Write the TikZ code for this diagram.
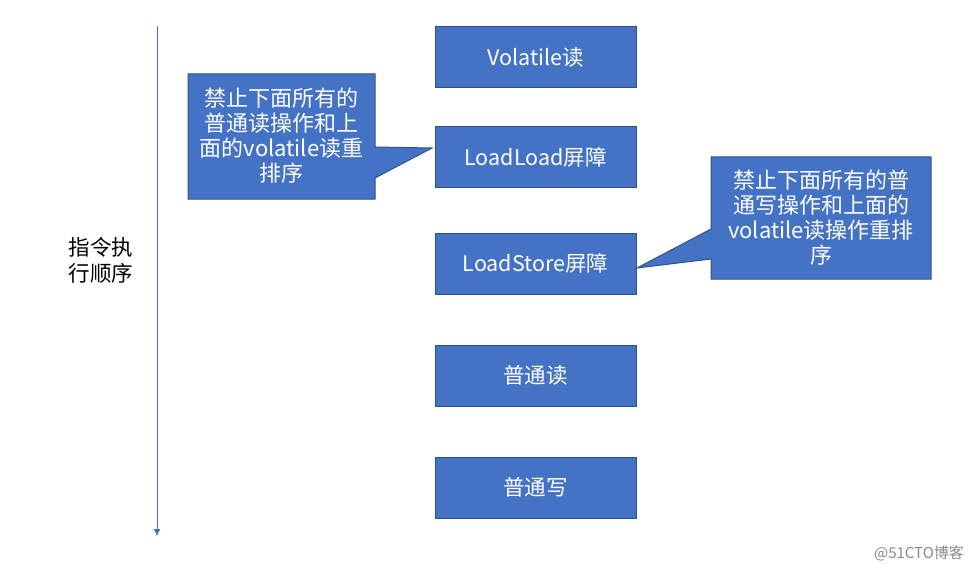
\documentclass[tikz,border=0pt]{standalone}
\usepackage{fontspec}
\setmainfont{Noto Sans CJK SC}
\newfontfamily\cjk{Noto Sans CJK SC}
\definecolor{boxblue}{HTML}{4472C4}
\definecolor{boxedge}{HTML}{2F528F}
\definecolor{wm}{HTML}{8A8A8A}
\tikzset{
  stepbox/.style={draw=boxedge, fill=boxblue, line width=1pt, minimum width=201pt, minimum height=61pt, text=white, font=\cjk\fontsize{21.5}{25}\selectfont, inner sep=0pt},
  callshape/.style={draw=boxedge, fill=boxblue, line width=1pt, line join=miter},
  calltext/.style={text=white, font=\cjk\fontsize{22}{25}\selectfont, align=center, inner sep=0pt},
  flowline/.style={draw=boxblue, line width=1pt, -{Latex[length=7pt,width=7pt]}},
}
\usetikzlibrary{arrows.meta}
\begin{document}
\begin{tikzpicture}[x=1pt,y=-1pt]
\useasboundingbox (0,0) rectangle (979,572);
\fill[white] (0,0) rectangle (979,572);
% flow boxes
\node[stepbox] (b1) at (535.5,57) {Volatile读};
\node[stepbox] (b2) at (535.5,157.5) {LoadLoad屏障};
\node[stepbox] (b3) at (535.5,263.5) {LoadStore屏障};
\node[stepbox] (b4) at (535.5,375.5) {普通读};
\node[stepbox] (b5) at (535.5,487.5) {普通写};
% order arrow
\coordinate (atop) at (157,26);
\coordinate (abot) at (157,536);
\draw[flowline] (atop) -- (abot);
\node[font=\cjk\fontsize{21.5}{26}\selectfont, align=center, inner sep=0pt] (order) at (101,260.5) {指令执\\行顺序};
% left callout
\coordinate (ltip) at (432,148);
\path[callshape] (188,74) -- (375,74) -- (375,147) -- (ltip) -- (375,178) -- (375,199) -- (188,199) -- cycle;
\node[calltext] (c1) at (281.5,136) {禁止下面所有的\\普通读操作和上\\面的volatile读重\\排序};
% right callout
\coordinate (rtip) at (637,268);
\path[callshape] (711,157) -- (931,157) -- (931,279) -- (711,279) -- (711,259) -- (rtip) -- (711,229) -- cycle;
\node[calltext] (c2) at (821,218) {禁止下面所有的普\\通写操作和上面的\\volatile读操作重排\\序};
% watermark
\node[text=wm, font=\cjk\fontsize{15}{17}\selectfont, inner sep=0pt] (wmk) at (919,553) {@51CTO博客};
\end{tikzpicture}
\end{document}
